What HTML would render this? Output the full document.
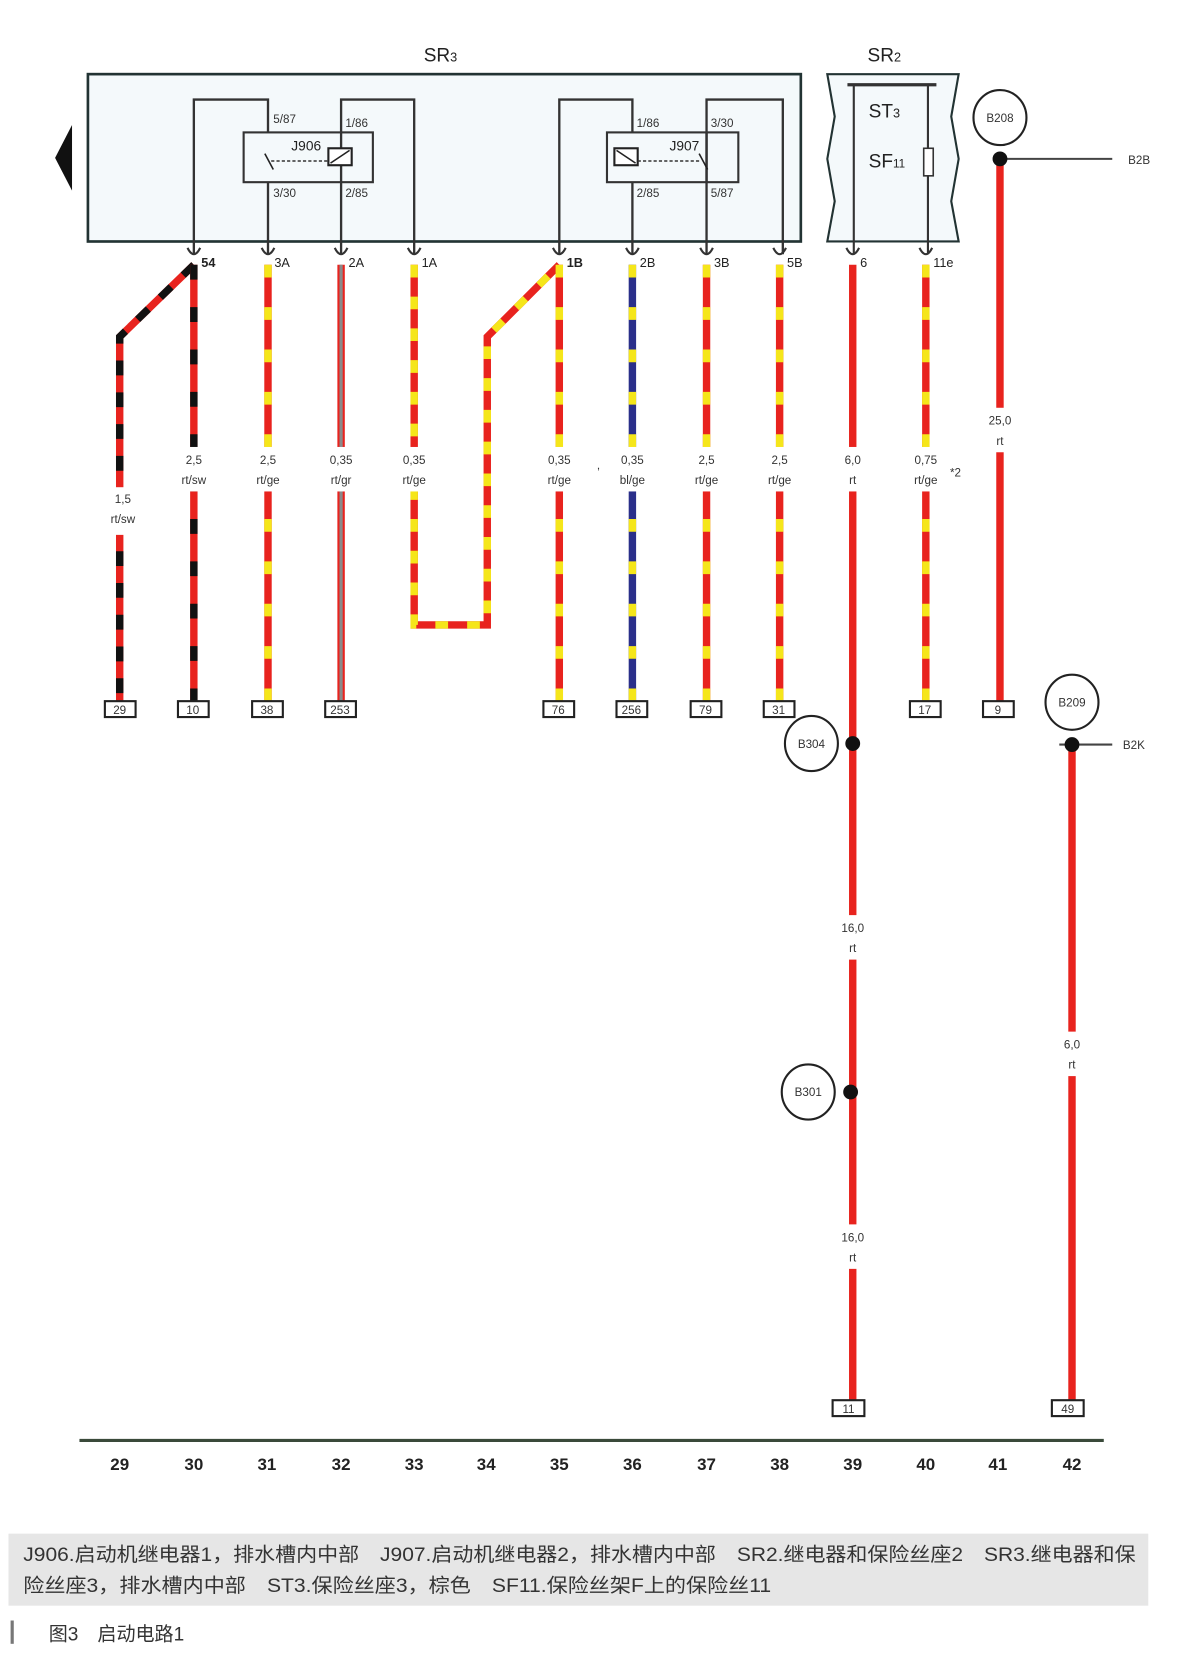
<!DOCTYPE html>
<html><head><meta charset="utf-8"><style>
html,body{margin:0;padding:0;background:#fff;width:1197px;height:1665px;overflow:hidden}
svg{display:block}
text{font-family:"Liberation Sans","Noto Sans CJK SC",sans-serif}
.s{font-size:11px;fill:#333}
.p{font-size:12px;fill:#222}
</style></head><body>
<svg width="1197" height="1665" viewBox="0 0 1130 1572" preserveAspectRatio="none" xmlns="http://www.w3.org/2000/svg">
<rect width="1130" height="1572" fill="#fff"/>
<text x="400" y="58" font-size="18" fill="#222">SR<tspan font-size="12">3</tspan></text>
<rect x="83" y="70" width="673" height="158" fill="#f4f9fb" stroke="#233" stroke-width="2.5"/>
<polygon points="68,118 52,149 68,180" fill="#111"/>
<text x="819" y="58" font-size="18" fill="#222">SR<tspan font-size="12">2</tspan></text>
<path d="M781,70 L905,70 L898,110 L905,150 L898,190 L905,228 L781,228 L788,190 L781,150 L788,110 Z" fill="#f4f9fb" stroke="#233" stroke-width="2"/>
<line x1="800" y1="80" x2="884" y2="80" stroke="#333" stroke-width="3"/>
<line x1="806" y1="80" x2="806" y2="240" stroke="#333" stroke-width="2"/>
<line x1="876" y1="80" x2="876" y2="240" stroke="#333" stroke-width="2"/>
<rect x="872" y="140" width="9" height="26" fill="#fff" stroke="#333" stroke-width="1.5"/>
<text x="820" y="111" font-size="18" fill="#222">ST<tspan font-size="12">3</tspan></text>
<text x="820" y="158" font-size="18" fill="#222">SF<tspan font-size="11">11</tspan></text>
<g stroke="#333" stroke-width="2.2" fill="none">
<path d="M183,240 V94 H253 V125"/>
<path d="M253,172 V240"/>
<path d="M322,240 V94 H391 V240"/>
<path d="M528,240 V94 H597 V125"/>
<path d="M597,172 V240"/>
<path d="M667,240 V94 H739 V240"/>
<path d="M667,125 V172"/>
</g>
<rect x="230" y="125" width="122" height="47" fill="none" stroke="#333" stroke-width="2"/>
<rect x="573" y="125" width="124" height="47" fill="none" stroke="#333" stroke-width="2"/>
<rect x="310" y="140" width="22" height="16" fill="#fff" stroke="#222" stroke-width="2"/>
<line x1="312" y1="154" x2="330" y2="142" stroke="#222" stroke-width="1.5"/>
<rect x="580" y="140" width="22" height="16" fill="#fff" stroke="#222" stroke-width="2"/>
<line x1="582" y1="142" x2="600" y2="154" stroke="#222" stroke-width="1.5"/>
<line x1="250" y1="145" x2="258" y2="160" stroke="#222" stroke-width="1.5"/>
<line x1="660" y1="145" x2="668" y2="160" stroke="#222" stroke-width="1.5"/>
<line x1="256" y1="152" x2="310" y2="152" stroke="#333" stroke-width="1.5" stroke-dasharray="3 2"/>
<line x1="602" y1="152" x2="662" y2="152" stroke="#333" stroke-width="1.5" stroke-dasharray="3 2"/>
<text x="275" y="142" font-size="13" fill="#222">J906</text>
<text x="632" y="142" font-size="13" fill="#222">J907</text>
<g class="s" font-size="9">
<text x="258" y="116">5/87</text><text x="326" y="120">1/86</text>
<text x="258" y="186">3/30</text><text x="326" y="186">2/85</text>
<text x="601" y="120">1/86</text><text x="671" y="120">3/30</text>
<text x="601" y="186">2/85</text><text x="671" y="186">5/87</text>
</g>
<g fill="none" stroke="#333" stroke-width="2">
<path d="M177,234 q6,12 12,0"/><path d="M247,234 q6,12 12,0"/><path d="M316,234 q6,12 12,0"/><path d="M385,234 q6,12 12,0"/>
<path d="M522,234 q6,12 12,0"/><path d="M591,234 q6,12 12,0"/><path d="M661,234 q6,12 12,0"/><path d="M730,234 q6,12 12,0"/>
<path d="M799,234 q6,12 12,0"/><path d="M868,234 q6,12 12,0"/>
</g>
<g class="p" font-size="12">
<text x="190" y="252" font-weight="bold">54</text><text x="259" y="252">3A</text><text x="329" y="252">2A</text><text x="398" y="252">1A</text>
<text x="535" y="252" font-weight="bold">1B</text><text x="604" y="252">2B</text><text x="674" y="252">3B</text><text x="743" y="252">5B</text>
<text x="812" y="252">6</text><text x="881" y="252">11e</text>
</g>
<g fill="none" stroke-width="7">
<path d="M183,250 L113,318 V664" stroke="#e8231e"/>
<path d="M183,250 L113,318 V664" stroke="#111" stroke-dasharray="14 16"/>
<path d="M183,250 V664" stroke="#e8231e"/>
<path d="M183,250 V664" stroke="#111" stroke-dasharray="14 26"/>
<path d="M253,250 V664" stroke="#e8231e"/>
<path d="M253,250 V664" stroke="#f5e61a" stroke-dasharray="12 28"/>
<path d="M322,250 V664" stroke="#e8231e"/>
<path d="M322,250 V664" stroke="#8a8a8a" stroke-width="3"/>
<path d="M391,250 V590 H460 V318 L528,250" stroke="#e8231e"/>
<path d="M391,250 V590 H460 V318 L528,250" stroke="#f5e61a" stroke-dasharray="12 18"/>
<path d="M528,250 V664" stroke="#e8231e"/>
<path d="M528,250 V664" stroke="#f5e61a" stroke-dasharray="12 28"/>
<path d="M597,250 V664" stroke="#2a2f8a"/>
<path d="M597,250 V664" stroke="#f5e61a" stroke-dasharray="12 28"/>
<path d="M667,250 V664" stroke="#e8231e"/>
<path d="M667,250 V664" stroke="#f5e61a" stroke-dasharray="12 28"/>
<path d="M736,250 V664" stroke="#e8231e"/>
<path d="M736,250 V664" stroke="#f5e61a" stroke-dasharray="12 28"/>
<path d="M805,250 V1322" stroke="#e8231e"/>
<path d="M874,250 V664" stroke="#e8231e"/>
<path d="M874,250 V664" stroke="#f5e61a" stroke-dasharray="12 28"/>
<path d="M944,150 V664" stroke="#e8231e"/>
<path d="M1012,703 V1322" stroke="#e8231e"/>
</g>
<g fill="#fff">
<rect x="100" y="460" width="30" height="45"/>
<rect x="165" y="422" width="40" height="42"/><rect x="235" y="422" width="40" height="42"/><rect x="304" y="422" width="40" height="42"/><rect x="373" y="422" width="40" height="42"/>
<rect x="510" y="422" width="40" height="42"/><rect x="579" y="422" width="40" height="42"/><rect x="649" y="422" width="40" height="42"/><rect x="718" y="422" width="40" height="42"/>
<rect x="787" y="422" width="40" height="42"/><rect x="856" y="422" width="40" height="42"/>
<rect x="926" y="385" width="40" height="42"/>
<rect x="787" y="864" width="40" height="42"/><rect x="787" y="1156" width="40" height="42"/>
<rect x="994" y="974" width="40" height="42"/>
</g>
<g class="s" text-anchor="middle">
<text x="116" y="475">1,5</text><text x="116" y="494">rt/sw</text>
<text x="183" y="438">2,5</text><text x="183" y="457">rt/sw</text>
<text x="253" y="438">2,5</text><text x="253" y="457">rt/ge</text>
<text x="322" y="438">0,35</text><text x="322" y="457">rt/gr</text>
<text x="391" y="438">0,35</text><text x="391" y="457">rt/ge</text>
<text x="528" y="438">0,35</text><text x="528" y="457">rt/ge</text>
<text x="565" y="443">,</text>
<text x="597" y="438">0,35</text><text x="597" y="457">bl/ge</text>
<text x="667" y="438">2,5</text><text x="667" y="457">rt/ge</text>
<text x="736" y="438">2,5</text><text x="736" y="457">rt/ge</text>
<text x="805" y="438">6,0</text><text x="805" y="457">rt</text>
<text x="874" y="438">0,75</text><text x="874" y="457">rt/ge</text>
<text x="902" y="450">*2</text>
<text x="944" y="401">25,0</text><text x="944" y="420">rt</text>
<text x="805" y="880">16,0</text><text x="805" y="899">rt</text>
<text x="805" y="1172">16,0</text><text x="805" y="1191">rt</text>
<text x="1012" y="990">6,0</text><text x="1012" y="1009">rt</text>
</g>
<g fill="#fff" stroke="#222" stroke-width="2">
<rect x="99" y="662" width="29" height="15"/><rect x="168" y="662" width="29" height="15"/><rect x="238" y="662" width="29" height="15"/><rect x="307" y="662" width="29" height="15"/>
<rect x="513" y="662" width="29" height="15"/><rect x="582" y="662" width="29" height="15"/><rect x="652" y="662" width="29" height="15"/><rect x="721" y="662" width="29" height="15"/>
<rect x="859" y="662" width="29" height="15"/><rect x="928" y="662" width="29" height="15"/>
<rect x="786" y="1322" width="30" height="15"/><rect x="993" y="1322" width="30" height="15"/>
</g>
<g class="s" font-size="10" text-anchor="middle">
<text x="113" y="674">29</text><text x="182" y="674">10</text><text x="252" y="674">38</text><text x="321" y="674">253</text>
<text x="527" y="674">76</text><text x="596" y="674">256</text><text x="666" y="674">79</text><text x="735" y="674">31</text>
<text x="873" y="674">17</text><text x="942" y="674">9</text>
<text x="801" y="1334">11</text><text x="1008" y="1334">49</text>
</g>
<line x1="944" y1="150" x2="1050" y2="150" stroke="#444" stroke-width="2"/>
<text x="1065" y="155" class="s" font-size="8">B2B</text>
<line x1="1000" y1="703" x2="1050" y2="703" stroke="#444" stroke-width="2"/>
<text x="1060" y="707" class="s" font-size="8">B2K</text>
<g fill="#111"><circle cx="944" cy="150" r="7"/><circle cx="805" cy="702" r="7"/><circle cx="803" cy="1031" r="7"/><circle cx="1012" cy="703" r="7"/></g>
<g fill="#fff" stroke="#222" stroke-width="2">
<ellipse cx="944" cy="111" rx="25" ry="26"/><ellipse cx="766" cy="702" rx="25" ry="26"/><ellipse cx="763" cy="1031" rx="25" ry="26"/><ellipse cx="1012" cy="663" rx="25" ry="26"/>
</g>
<g class="s" font-size="10" text-anchor="middle">
<text x="944" y="115">B208</text><text x="766" y="706">B304</text><text x="763" y="1035">B301</text><text x="1012" y="667">B209</text>
</g>
<line x1="75" y1="1360" x2="1042" y2="1360" stroke="#3a4a3a" stroke-width="3"/>
<g font-size="16" font-weight="bold" fill="#222" text-anchor="middle">
<text x="113" y="1388">29</text><text x="183" y="1388">30</text><text x="252" y="1388">31</text><text x="322" y="1388">32</text><text x="391" y="1388">33</text><text x="459" y="1388">34</text><text x="528" y="1388">35</text>
<text x="597" y="1388">36</text><text x="667" y="1388">37</text><text x="736" y="1388">38</text><text x="805" y="1388">39</text><text x="874" y="1388">40</text><text x="942" y="1388">41</text><text x="1012" y="1388">42</text>
</g>
<rect x="8" y="1448" width="1076" height="68" fill="#e6e6e6"/>
<text x="22" y="1474" font-size="18" fill="#333" textLength="1050" lengthAdjust="spacingAndGlyphs">J906.启动机继电器1，排水槽内中部　J907.启动机继电器2，排水槽内中部　SR2.继电器和保险丝座2　SR3.继电器和保</text>
<text x="22" y="1503" font-size="18" fill="#333" textLength="706" lengthAdjust="spacingAndGlyphs">险丝座3，排水槽内中部　ST3.保险丝座3，棕色　SF11.保险丝架F上的保险丝11</text>
<rect x="10" y="1530" width="3" height="22" fill="#777"/>
<text x="46" y="1549" font-size="18" fill="#333">图3　启动电路1</text>
</svg>
</body></html>
